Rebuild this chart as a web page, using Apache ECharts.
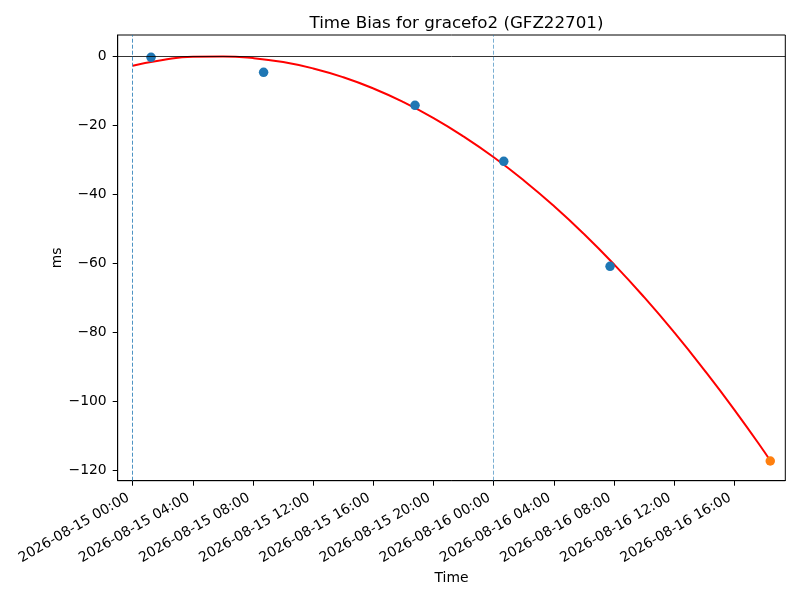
<!DOCTYPE html>
<html>
<head>
<meta charset="utf-8">
<script src="https://cdn.jsdelivr.net/npm/echarts@6/dist/echarts.min.js"></script>
<style>
html,body{margin:0;padding:0;background:#fff;}
#chart{width:800px;height:600px;}
</style>
</head>
<body>
<div id="chart"></div>
<script>
// Observed bias points (blue)
const obsTimes = ['2026-08-15 01:13', '2026-08-15 08:42', '2026-08-15 18:46', '2026-08-16 00:40', '2026-08-16 07:44'];
const obsValues = [-0.38, -4.72, -14.27, -30.48, -60.87];
// Predicted point (orange)
const predTimes = ['2026-08-16 18:23'];
const predValues = [-117.2];
// Fitted curve (red)
const fitTimes = ['2026-08-15 00:00','2026-08-15 02:00','2026-08-15 04:00','2026-08-15 06:00','2026-08-15 08:00','2026-08-15 10:00','2026-08-15 12:00','2026-08-15 14:00','2026-08-15 16:00','2026-08-15 18:00','2026-08-15 20:00','2026-08-15 22:00','2026-08-16 00:00','2026-08-16 02:00','2026-08-16 04:00','2026-08-16 06:00','2026-08-16 08:00','2026-08-16 10:00','2026-08-16 12:00','2026-08-16 14:00','2026-08-16 16:00','2026-08-16 18:00','2026-08-16 18:23'];
const fitValues = [-2.8,-1.15,-0.2,-0.12,-0.6,-1.75,-3.6,-6.15,-9.4,-13.35,-17.97,-23.3,-29.3,-36.0,-43.4,-51.5,-60.3,-69.8,-80.0,-90.9,-102.4,-114.6,-117.2];
// Reference vertical lines
const vlineTimes = ['2026-08-15 00:00', '2026-08-16 00:00'];
// Tick labels
const xTickLabels = ['2026-08-15 00:00','2026-08-15 04:00','2026-08-15 08:00','2026-08-15 12:00','2026-08-15 16:00','2026-08-15 20:00','2026-08-16 00:00','2026-08-16 04:00','2026-08-16 08:00','2026-08-16 12:00','2026-08-16 16:00'];
const yTicks = [-120, -100, -80, -60, -40, -20, 0];
const xRange = ['2026-08-14 23:00', '2026-08-16 19:23'];
const yRange = [-122.9, 6.08];

function parseT(s) {
  const [d, t] = s.split(' ');
  const [Y, M, D] = d.split('-').map(Number);
  const [h, m] = t.split(':').map(Number);
  return Date.UTC(Y, M - 1, D, h, m);
}
function pad(n) { return (n < 10 ? '0' : '') + n; }
function fmtT(ms) {
  const d = new Date(ms);
  return d.getUTCFullYear() + '-' + pad(d.getUTCMonth() + 1) + '-' + pad(d.getUTCDate()) + ' ' + pad(d.getUTCHours()) + ':' + pad(d.getUTCMinutes());
}
const zip = (ts, vs) => ts.map((t, i) => [parseT(t), vs[i]]);

const font = 'DejaVu Sans';
const chart = echarts.init(document.getElementById('chart'), null, {renderer: 'canvas'});
const xTickVals = xTickLabels.map(parseT);

chart.setOption({
  animation: false,
  backgroundColor: '#ffffff',
  title: {
    text: 'Time Bias for gracefo2 (GFZ22701)',
    left: 451.5, top: 10, textAlign: 'center',
    textStyle: {fontFamily: font, fontSize: 16.7, fontWeight: 'normal', color: '#000'}
  },
  grid: {left: 117.7, right: 14.7, top: 35, bottom: 119.3, containLabel: false, show: true, borderColor: '#000', borderWidth: 1},
  xAxis: {
    type: 'value',
    min: parseT(xRange[0]), max: parseT(xRange[1]),
    name: 'Time', nameLocation: 'middle', nameGap: 91, nameMoveOverlap: false,
    nameTextStyle: {fontFamily: font, fontSize: 13.9, color: '#000'},
    axisLine: {show: true, onZero: false, lineStyle: {color: '#000', width: 1}},
    axisTick: {show: true, length: 5, lineStyle: {color: '#000', width: 1}, customValues: xTickVals},
    axisLabel: {
      customValues: xTickVals, rotate: 30, margin: 13.5, padding: [0, 5, 0, 0],
      fontFamily: font, fontSize: 13.9, color: '#000',
      formatter: v => fmtT(v)
    },
    splitLine: {show: false}
  },
  yAxis: {
    type: 'value',
    min: yRange[0], max: yRange[1],
    name: 'ms', nameLocation: 'middle', nameGap: 53, nameRotate: 90, nameMoveOverlap: false,
    nameTextStyle: {fontFamily: font, fontSize: 13.9, color: '#000'},
    axisLine: {show: true, onZero: false, lineStyle: {color: '#000', width: 1}},
    axisTick: {show: true, length: 5, lineStyle: {color: '#000', width: 1}, customValues: yTicks},
    axisLabel: {
      customValues: yTicks, margin: 11,
      fontFamily: font, fontSize: 13.9, color: '#000',
      formatter: v => String(v).replace('-', '\u2212')
    },
    splitLine: {show: false}
  },
  series: [
    {
      type: 'line', data: zip(fitTimes, fitValues), showSymbol: false, smooth: true,
      lineStyle: {color: '#ff0000', width: 2}, z: 3,
      markLine: {
        silent: true, symbol: 'none', label: {show: false},
        data: [
          {yAxis: 0, lineStyle: {color: '#000', width: 0.8, type: 'solid'}},
          {xAxis: parseT(vlineTimes[0]), lineStyle: {color: '#1f77b4', width: 0.8, type: [4, 2]}},
          {xAxis: parseT(vlineTimes[1]), lineStyle: {color: '#1f77b4', width: 0.8, type: [4, 2], opacity: 0.75}}
        ]
      }
    },
    {
      type: 'scatter', data: zip(obsTimes, obsValues), symbol: 'circle', symbolSize: 9.5,
      itemStyle: {color: '#1f77b4', opacity: 1}, z: 4
    },
    {
      type: 'scatter', data: zip(predTimes, predValues), symbol: 'circle', symbolSize: 9.5,
      itemStyle: {color: '#ff7f0e', opacity: 1}, z: 4
    }
  ]
});
</script>
</body>
</html>
